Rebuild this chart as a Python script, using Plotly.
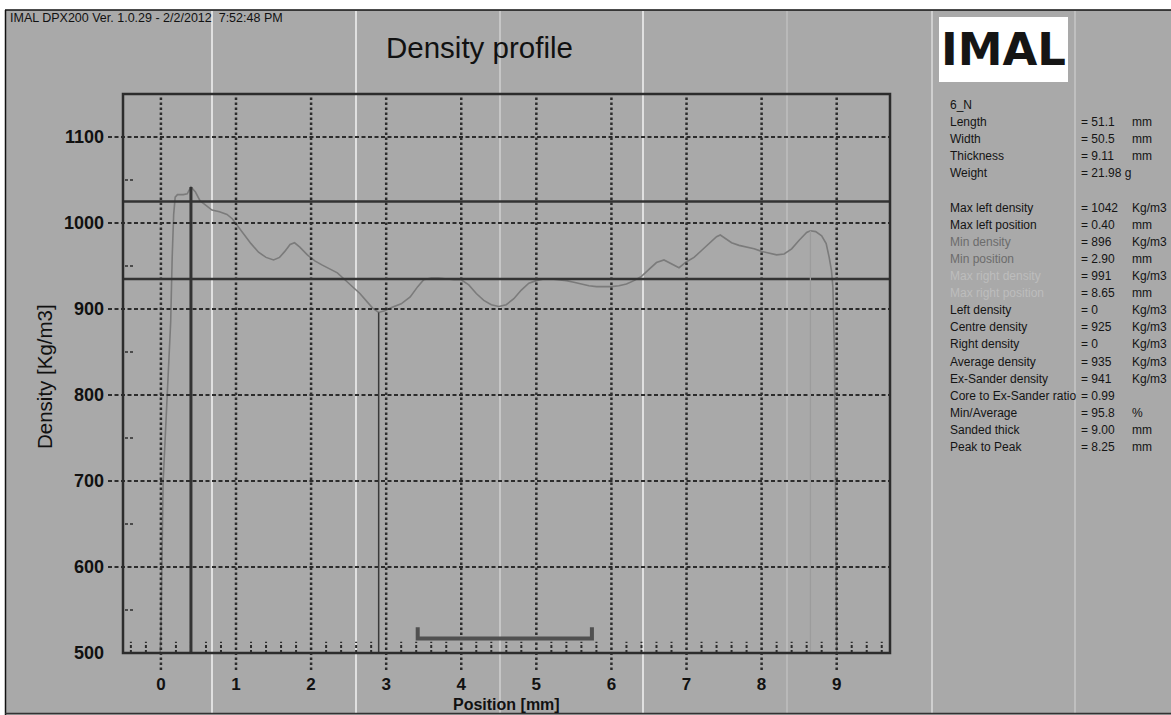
import plotly.graph_objects as go

# ---------------- data ----------------
position_mm = [-0.01, 0.0, 0.03, 0.08, 0.13, 0.15, 0.17, 0.19, 0.22, 0.30, 0.35, 0.40,
               0.46, 0.52, 0.60, 0.68, 0.78, 0.88, 0.95, 1.00, 1.10, 1.20, 1.30, 1.40,
               1.50, 1.58, 1.65, 1.72, 1.78, 1.85, 1.95, 2.05, 2.15, 2.25, 2.35, 2.45,
               2.55, 2.65, 2.75, 2.82, 2.90, 2.98, 3.08, 3.20, 3.32, 3.42, 3.50, 3.60,
               3.70, 3.80, 3.90, 4.00, 4.10, 4.20, 4.30, 4.40, 4.50, 4.60, 4.70, 4.80,
               4.90, 5.00, 5.10, 5.20, 5.30, 5.40, 5.50, 5.60, 5.70, 5.80, 5.90, 6.00,
               6.10, 6.20, 6.30, 6.40, 6.50, 6.60, 6.70, 6.80, 6.90, 7.00, 7.10, 7.20,
               7.30, 7.40, 7.45, 7.50, 7.60, 7.70, 7.80, 7.90, 8.00, 8.10, 8.20, 8.30,
               8.40, 8.50, 8.60, 8.65, 8.72, 8.80, 8.86, 8.90, 8.93, 8.95, 8.97, 9.00]
density = [500, 525, 700, 800, 885, 960, 1010, 1030, 1033, 1033, 1034, 1042,
           1036, 1026, 1020, 1015, 1013, 1010, 1005, 999, 988, 976, 966, 960,
           957, 960, 967, 975, 977, 972, 963, 956, 951, 946, 942, 934,
           926, 918, 908, 901, 896, 898, 902, 906, 914, 926, 934, 936,
           936, 935, 934, 934, 928, 918, 910, 905, 903, 905, 912, 922,
           930, 933, 935, 935, 934, 933, 931, 929, 927, 926, 926, 926,
           927, 929, 933, 938, 946, 954, 957, 952, 948, 955, 960, 968,
           976, 984, 986, 983, 977, 974, 972, 970, 967, 965, 963, 964,
           970, 980, 989, 991, 990, 985, 976, 960, 945, 925, 850, 500]

x_tick_vals = [0, 1, 2, 3, 4, 5, 6, 7, 8, 9]
x_tick_text = ["0", "1", "2", "3", "4", "5", "6", "7", "8", "9"]
y_tick_vals = [500, 600, 700, 800, 900, 1000, 1100]
y_tick_text = ["500", "600", "700", "800", "900", "1000", "1100"]
y_grid_vals = [600, 700, 800, 900, 1000, 1100]
y_minor_vals = [550, 650, 750, 850, 950, 1050]
x_minor_vals = [-0.4, -0.2, 0.2, 0.4, 0.6, 0.8, 1.2, 1.4, 1.6, 1.8, 2.2, 2.4, 2.6, 2.8,
                3.2, 3.4, 3.6, 3.8, 4.2, 4.4, 4.6, 4.8, 5.2, 5.4, 5.6, 5.8, 6.2, 6.4,
                6.6, 6.8, 7.2, 7.4, 7.6, 7.8, 8.2, 8.4, 8.6, 8.8, 9.2, 9.4, 9.6]

avg_density = 935
upper_line_density = 1025
max_left_pos, max_left_density = 0.40, 1042
min_pos, min_density = 2.90, 896
max_right_pos, max_right_density = 8.65, 991
bracket_x = [3.42, 5.74]
bracket_y = [517, 530]

x_range = [-0.505, 9.71]
y_range = [500, 1150]

panel_labels = ["6_N", "Length", "Width", "Thickness", "Weight", "",
                "Max left density", "Max left position", "Min density", "Min position",
                "Max right density", "Max right position", "Left density", "Centre density",
                "Right density", "Average density", "Ex-Sander density",
                "Core to Ex-Sander ratio", "Min/Average", "Sanded thick", "Peak to Peak"]
panel_values = ["", "51.1", "50.5", "9.11", "21.98", "",
                "1042", "0.40", "896", "2.90", "991", "8.65", "0", "925", "0",
                "935", "941", "0.99", "95.8", "9.00", "8.25"]
panel_units = ["", "mm", "mm", "mm", "g", "",
               "Kg/m3", "mm", "Kg/m3", "mm", "Kg/m3", "mm", "Kg/m3", "Kg/m3", "Kg/m3",
               "Kg/m3", "Kg/m3", "", "%", "mm", "mm"]
panel_label_colors = ["#141414"] * 8 + ["#6c6c6c", "#6c6c6c", "#bdbdbd", "#bdbdbd"] + ["#141414"] * 9

# ---------------- layout helpers ----------------
W, H = 1171, 715
L, R, T, B = 123, 890, 94, 653
BG = "#a9a9a9"
DARK = "#2c2c2c"
FONT = "Liberation Sans, Arial, sans-serif"


def px(x):
    return (x - L) / (R - L)


def py(y):
    return (B - y) / (B - T)


fig = go.Figure()
fig.add_trace(go.Scatter(x=position_mm, y=density, mode="lines",
                         line=dict(color="#7b7b7b", width=1.6), hoverinfo="skip",
                         showlegend=False))

shapes = []
# image streaks / panel separators
for xp, a in [(212, 0.85), (356, 0.85), (500, 0.45), (643, 0.85), (787, 0.25), (932, 0.6), (1075, 0.35)]:
    shapes.append(dict(type="line", xref="paper", yref="paper", x0=px(xp), x1=px(xp),
                       y0=py(713), y1=py(11), line=dict(color=f"rgba(255,255,255,{a})", width=1.5),
                       layer="below"))

# vertical dotted gridlines
for xv in x_tick_vals:
    shapes.append(dict(type="line", xref="x", yref="paper", x0=xv, x1=xv, y0=py(670), y1=1,
                       line=dict(color=DARK, width=2.5, dash="2.5px,2.5px")))
# horizontal dashed gridlines
for yv in y_grid_vals:
    shapes.append(dict(type="line", xref="paper", yref="y", x0=px(108), x1=1, y0=yv, y1=yv,
                       line=dict(color=DARK, width=2, dash="4px,2.5px")))
# minor y ticks
for yv in y_minor_vals:
    shapes.append(dict(type="line", xref="paper", yref="y", x0=px(125), x1=px(135), y0=yv, y1=yv,
                       line=dict(color=DARK, width=1.5, dash="3px,2px")))
# minor x ticks at bottom
for xv in x_minor_vals:
    shapes.append(dict(type="line", xref="x", yref="y", x0=xv, x1=xv, y0=500, y1=513,
                       line=dict(color=DARK, width=2, dash="3px,2px")))
# reference horizontal lines
for yv in [upper_line_density, avg_density]:
    shapes.append(dict(type="line", xref="paper", yref="y", x0=0, x1=1, y0=yv, y1=yv,
                       line=dict(color="#333333", width=2.5)))
# marker vertical lines
shapes.append(dict(type="line", xref="x", yref="y", x0=max_left_pos, x1=max_left_pos,
                   y0=500, y1=max_left_density, line=dict(color="#333333", width=3)))
shapes.append(dict(type="line", xref="x", yref="y", x0=min_pos, x1=min_pos,
                   y0=500, y1=min_density, line=dict(color="#3a3a3a", width=1.5)))
shapes.append(dict(type="line", xref="x", yref="y", x0=max_right_pos, x1=max_right_pos,
                   y0=500, y1=max_right_density, line=dict(color="#9c9c9c", width=1.2)))
# bracket
shapes.append(dict(type="path", xref="x", yref="y",
                   path=f"M {bracket_x[0]},{bracket_y[1]} L {bracket_x[0]},{bracket_y[0]} "
                        f"L {bracket_x[1]},{bracket_y[0]} L {bracket_x[1]},{bracket_y[1]}",
                   line=dict(color="#505050", width=4)))
# frame
shapes.append(dict(type="rect", xref="paper", yref="paper", x0=0, x1=1, y0=0, y1=1,
                   line=dict(color=DARK, width=2.5)))
# outer picture border: white top strip + black lines
shapes.append(dict(type="rect", xref="paper", yref="paper", x0=px(-5), x1=px(W + 5),
                   y0=py(10), y1=py(-5), fillcolor="white", line=dict(width=0)))
shapes.append(dict(type="rect", xref="paper", yref="paper", x0=px(-5), x1=px(5),
                   y0=py(W), y1=py(-5), fillcolor="white", line=dict(width=0)))
shapes.append(dict(type="line", xref="paper", yref="paper", x0=px(5), x1=px(W + 5),
                   y0=py(10), y1=py(10), line=dict(color="#111111", width=1.5)))
shapes.append(dict(type="line", xref="paper", yref="paper", x0=px(5.5), x1=px(5.5),
                   y0=py(10), y1=py(716), line=dict(color="#111111", width=1.5)))
shapes.append(dict(type="line", xref="paper", yref="paper", x0=px(5), x1=px(W + 5),
                   y0=py(713.5), y1=py(713.5), line=dict(color="#333333", width=1.5)))
# logo box
shapes.append(dict(type="rect", xref="paper", yref="paper", x0=px(939), x1=px(1068),
                   y0=py(82), y1=py(17), fillcolor="white", line=dict(width=0)))

annotations = []
annotations.append(dict(text="IMAL DPX200 Ver. 1.0.29 - 2/2/2012  7:52:48 PM", xref="paper", yref="paper",
                        x=px(8), y=py(18), xanchor="left", yanchor="middle", showarrow=False,
                        font=dict(family=FONT, size=12.5, color="#111111")))
annotations.append(dict(text="Density profile", xref="paper", yref="paper",
                        x=px(479), y=py(47), xanchor="center", yanchor="middle", showarrow=False,
                        font=dict(family=FONT, size=29.5, color="#111111")))
annotations.append(dict(text="Density [Kg/m3]", xref="paper", yref="paper", textangle=-90,
                        x=px(44), y=py(377), xanchor="center", yanchor="middle", showarrow=False,
                        font=dict(family=FONT, size=20.5, color="#111111")))
annotations.append(dict(text="Position [mm]", xref="paper", yref="paper",
                        x=px(506), y=py(704), xanchor="center", yanchor="middle", showarrow=False,
                        font=dict(family=FONT, size=16, color="#111111", weight="bold")))
annotations.append(dict(text="IMAL", xref="paper", yref="paper",
                        x=px(1003), y=py(49), xanchor="center", yanchor="middle", showarrow=False,
                        font=dict(family="DejaVu Sans, Arial Black, sans-serif", size=45,
                                  color="#151515", weight="bold")))

row0, step = 105, 17.1
for i, lab in enumerate(panel_labels):
    yv = py(row0 + step * i)
    if lab:
        annotations.append(dict(text=lab, xref="paper", yref="paper", x=px(948), y=yv,
                                xanchor="left", yanchor="middle", showarrow=False,
                                font=dict(family=FONT, size=12, color=panel_label_colors[i])))
    if panel_values[i]:
        txt = "= " + panel_values[i]
        if panel_units[i] == "g":
            txt += " g"
        annotations.append(dict(text=txt, xref="paper", yref="paper", x=px(1079), y=yv,
                                xanchor="left", yanchor="middle", showarrow=False,
                                font=dict(family=FONT, size=12, color="#141414")))
    if panel_units[i] and panel_units[i] != "g":
        annotations.append(dict(text=panel_units[i], xref="paper", yref="paper", x=px(1130), y=yv,
                                xanchor="left", yanchor="middle", showarrow=False,
                                font=dict(family=FONT, size=12, color="#141414")))

fig.update_layout(
    width=W, height=H,
    margin=dict(l=L, r=W - R, t=T, b=H - B, autoexpand=False),
    paper_bgcolor=BG, plot_bgcolor="rgba(0,0,0,0)",
    showlegend=False,
    shapes=shapes, annotations=annotations,
    xaxis=dict(range=x_range, tickvals=x_tick_vals, ticktext=x_tick_text, showgrid=False,
               zeroline=False, showline=False, ticks="", ticklabelstandoff=19,
               tickfont=dict(family=FONT, size=17, color="#111111", weight="bold")),
    yaxis=dict(range=y_range, tickvals=y_tick_vals, ticktext=y_tick_text, showgrid=False,
               zeroline=False, showline=False, ticks="", ticklabelstandoff=18,
               tickfont=dict(family=FONT, size=18, color="#111111", weight="bold")),
)

fig.write_html("out.html", config={"displayModeBar": False},
               post_script="document.body.style.margin='0px';document.body.style.overflow='hidden';")
